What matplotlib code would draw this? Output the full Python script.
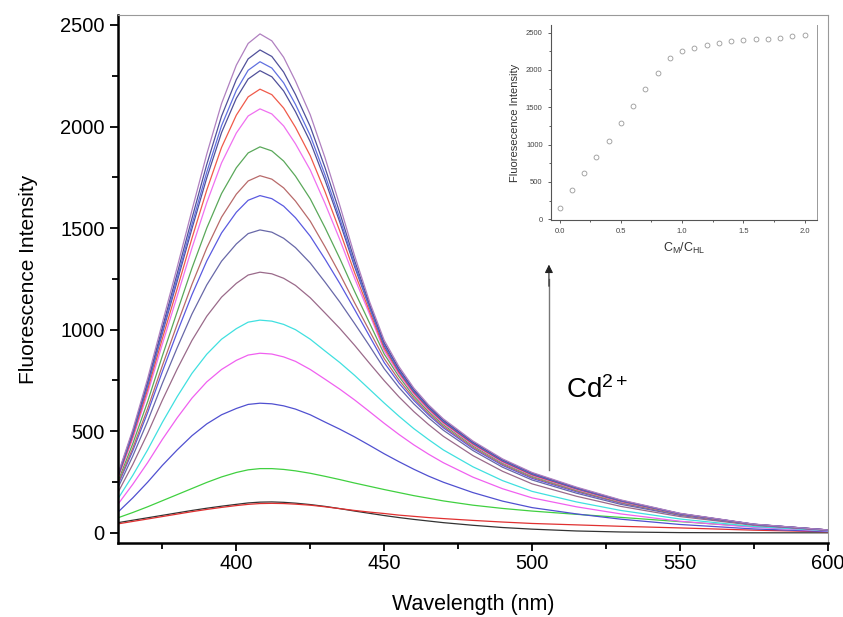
import matplotlib
matplotlib.use('Agg')
import matplotlib.pyplot as plt
from matplotlib.ticker import MultipleLocator

plt.rcParams['font.family'] = 'Liberation Sans'
plt.rcParams['mathtext.fontset'] = 'custom'
plt.rcParams['mathtext.rm'] = 'Liberation Sans'
plt.rcParams['mathtext.it'] = 'Liberation Sans'

# emission spectra, wavelength grid (nm)
wl = [360, 365, 370, 375, 380, 385, 390, 395, 400, 404, 408, 412, 416, 420, 425,
      430, 435, 440, 445, 450, 455, 460, 465, 470, 480, 490, 500, 515, 530, 550, 575, 600]

# one list per Cd2+ addition, lowest first
s00 = [50, 62, 74, 86, 98, 110, 121, 131, 140, 147, 151, 152, 150, 146, 139,
       130, 119, 107, 96, 85, 75, 66, 58, 50, 37, 26, 18, 9, 4, 1, 0, 0]
s01 = [44, 56, 68, 80, 92, 104, 115, 125, 134, 140, 144, 145, 144, 141, 136,
       128, 119, 110, 102, 95, 87, 81, 75, 70, 61, 53, 46, 39, 32, 24, 13, 5]
s02 = [74, 100, 128, 158, 188, 218, 248, 275, 297, 310, 316, 316, 312, 305, 293,
       278, 262, 245, 229, 213, 198, 183, 170, 157, 136, 120, 107, 91, 76, 55, 30, 12]
s03 = [102, 172, 249, 332, 408, 478, 536, 581, 612, 632, 638, 635, 625, 609, 581,
       545, 510, 472, 431, 389, 350, 313, 279, 249, 198, 156, 124, 93, 67, 41, 19, 6]
s04 = [141, 239, 345, 460, 566, 663, 743, 804, 849, 875, 884, 880, 866, 844, 804,
       756, 707, 654, 597, 539, 484, 433, 387, 345, 274, 217, 172, 128, 93, 57, 27, 9]
s05 = [168, 283, 408, 544, 670, 785, 879, 953, 1005, 1037, 1047, 1042, 1026, 1000, 953,
       895, 838, 775, 707, 639, 574, 513, 459, 408, 325, 257, 204, 152, 110, 68, 31, 10]
s06 = [199, 337, 489, 653, 806, 947, 1066, 1160, 1228, 1269, 1283, 1275, 1253, 1218, 1157,
       1082, 1006, 923, 835, 749, 669, 597, 533, 475, 380, 303, 241, 180, 130, 80, 37, 12]
s07 = [222, 378, 549, 736, 911, 1077, 1220, 1337, 1422, 1473, 1491, 1480, 1450, 1404, 1328,
       1234, 1136, 1030, 921, 808, 715, 635, 566, 505, 405, 323, 260, 195, 140, 86, 39, 13]
s08 = [237, 404, 591, 794, 987, 1172, 1338, 1476, 1578, 1637, 1660, 1645, 1608, 1551, 1460,
       1347, 1227, 1099, 969, 838, 737, 652, 580, 517, 415, 332, 268, 202, 146, 89, 40, 13]
s09 = [243, 417, 611, 823, 1026, 1223, 1402, 1554, 1667, 1732, 1758, 1741, 1698, 1633, 1534,
       1408, 1274, 1132, 995, 858, 752, 662, 588, 524, 421, 337, 273, 206, 148, 90, 40, 13]
s10 = [255, 439, 645, 871, 1088, 1303, 1500, 1670, 1797, 1870, 1900, 1880, 1830, 1756, 1644,
       1502, 1350, 1188, 1034, 880, 769, 673, 597, 532, 428, 343, 278, 210, 151, 92, 41, 14]
s11 = [269, 464, 686, 929, 1165, 1402, 1625, 1821, 1968, 2052, 2087, 2062, 2003, 1915, 1786,
       1621, 1443, 1253, 1078, 896, 780, 682, 604, 538, 433, 347, 282, 213, 153, 93, 41, 14]
s12 = [274, 475, 704, 956, 1201, 1450, 1687, 1897, 2056, 2146, 2184, 2157, 2091, 1996, 1856,
       1679, 1485, 1280, 1092, 908, 788, 689, 610, 543, 437, 351, 285, 216, 155, 93, 41, 14]
s13 = [280, 487, 723, 983, 1238, 1497, 1747, 1970, 2139, 2234, 2275, 2245, 2175, 2073, 1925,
       1736, 1529, 1310, 1110, 920, 795, 695, 615, 547, 441, 354, 288, 218, 157, 94, 42, 14]
s14 = [283, 491, 731, 994, 1253, 1518, 1775, 2004, 2178, 2277, 2319, 2288, 2215, 2109, 1956,
       1761, 1547, 1321, 1116, 928, 801, 700, 619, 551, 444, 357, 291, 220, 158, 94, 42, 14]
s15 = [286, 499, 743, 1011, 1276, 1548, 1813, 2051, 2231, 2333, 2377, 2345, 2268, 2158, 2000,
       1797, 1575, 1340, 1127, 936, 808, 705, 623, 555, 447, 360, 294, 222, 160, 95, 42, 14]
s16 = [291, 508, 759, 1034, 1307, 1588, 1864, 2113, 2302, 2409, 2456, 2422, 2341, 2224, 2058,
       1846, 1611, 1364, 1140, 948, 818, 713, 630, 561, 452, 364, 297, 225, 162, 96, 43, 14]

spectra = [s00, s01, s02, s03, s04, s05, s06, s07, s08,
           s09, s10, s11, s12, s13, s14, s15, s16]
colors = ['#333333', '#e03030', '#40d040', '#5050d0', '#f060f0', '#40e0e0',
          '#9a6a8a', '#6868a8', '#5a5ae0', '#b86a6a', '#5aa85a', '#f070f0',
          '#f05a4a', '#50509a', '#6070e0', '#50509a', '#b080c0']

# titration curve (inset)
ratio = [0.0, 0.1, 0.2, 0.3, 0.4, 0.5, 0.6, 0.7, 0.8, 0.9, 1.0,
         1.1, 1.2, 1.3, 1.4, 1.5, 1.6, 1.7, 1.8, 1.9, 2.0]
inset_int = [156, 393, 616, 830, 1049, 1286, 1518, 1741, 1955, 2156, 2259,
             2290, 2335, 2357, 2393, 2402, 2415, 2415, 2433, 2460, 2469]

fig = plt.figure(figsize=(8.43, 6.17), dpi=100)
ax = fig.add_axes([0.140, 0.120, 0.842, 0.856])
for s, col in zip(spectra, colors):
    ax.plot(wl, s, lw=0.9, color=col)
ax.set_xlim(360, 600)
ax.set_ylim(-50, 2550)
ax.xaxis.set_major_locator(MultipleLocator(50))
ax.xaxis.set_minor_locator(MultipleLocator(25))
ax.yaxis.set_major_locator(MultipleLocator(500))
ax.yaxis.set_minor_locator(MultipleLocator(250))
ax.tick_params(which='both', direction='out', top=False, right=False, width=1.3, labelsize=14.5)
ax.tick_params(which='major', length=6)
ax.tick_params(axis='x', which='major', pad=2)
ax.tick_params(which='minor', length=4)
for s in ['left', 'bottom']:
    ax.spines[s].set_linewidth(1.8)
for s in ['top', 'right']:
    ax.spines[s].set_linewidth(0.8)
    ax.spines[s].set_color('#999999')
ax.set_xlabel('Wavelength (nm)', fontsize=15.5, labelpad=15)
ax.set_ylabel('Fluorescence Intensity', fontsize=15, labelpad=16)

ax.plot([505.7, 505.7], [310, 1250], color='#777777', lw=1)
ax.annotate('', xy=(505.7, 1334), xytext=(505.7, 1200),
            arrowprops=dict(arrowstyle='-|>', color='#222222', lw=0.8, mutation_scale=12))
ax.text(511.5, 704, 'Cd$^{2+}$', fontsize=20, va='center')

ins = fig.add_axes([0.6536, 0.6434, 0.3155, 0.3160])
ins.plot(ratio, inset_int, 'o', ms=3.5, mfc='none', mec='#999999', mew=0.6)
ins.set_xlim(-0.07, 2.1)
ins.set_ylim(-10, 2600)
ins.xaxis.set_major_locator(MultipleLocator(0.5))
ins.xaxis.set_minor_locator(MultipleLocator(0.25))
ins.yaxis.set_major_locator(MultipleLocator(500))
ins.yaxis.set_minor_locator(MultipleLocator(250))
ins.tick_params(which='both', direction='out', top=False, right=False, width=0.6,
                labelsize=5.5, colors='#444444')
ins.tick_params(which='major', length=2.5)
ins.tick_params(which='minor', length=1.5)
ins.spines['top'].set_visible(False)
ins.spines['right'].set_color('#999999')
ins.spines['right'].set_linewidth(0.7)
for s in ['left', 'bottom']:
    ins.spines[s].set_color('#555555')
    ins.spines[s].set_linewidth(0.8)
ins.set_ylabel('Fluoresecence Intensity', fontsize=8, color='#333333')
ins.set_xlabel('C$_{M}$/C$_{HL}$', fontsize=9, color='#333333')

fig.savefig('out.png')
